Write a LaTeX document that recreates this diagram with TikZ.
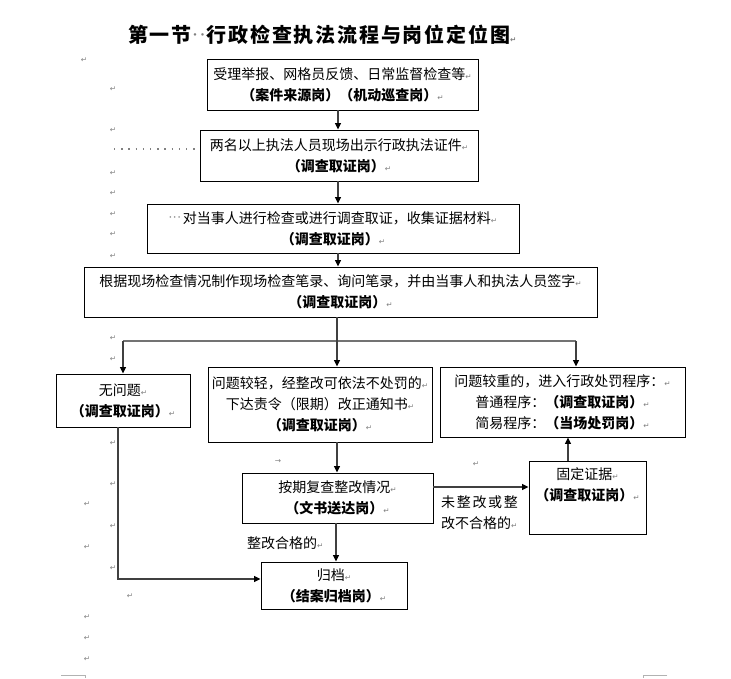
\documentclass[tikz,border=0pt]{standalone}
\usepackage{fontspec}
\setmainfont{Noto Sans CJK SC}
\newfontfamily\cjksp[LetterSpace=12]{Noto Sans CJK SC}
\newfontfamily\titlef[LetterSpace=9]{Noto Sans CJK SC}
\newfontfamily\markfont{DejaVu Sans}
\usetikzlibrary{arrows.meta}
\newcommand{\pmk}{{\markfont\fontsize{7.5}{7.5}\selectfont\textcolor{gray}{↵}}}
\newcommand{\gang}[1]{{\bfseries #1}}
\newcommand{\bodyfont}{\fontsize{14}{21}\selectfont}
\newcommand{\grdots}{\raisebox{3.3pt}{\markfont\fontsize{5.5}{5.5}\selectfont\textcolor{gray}{•\kern1.2pt•\kern1.2pt•}}\kern2pt}
\begin{document}
\begin{tikzpicture}[x=1pt,y=-1pt,
  box/.style={draw=black, line width=0.9pt, align=center, inner sep=0pt, font=\bodyfont},
  conn/.style={draw=black!75, line width=1.3pt, -{Triangle[length=6.5pt,width=6pt,color=black]}},
  plain/.style={draw=black!55, line width=1.3pt},
  lab/.style={inner sep=0pt, font=\bodyfont},
  mk/.style={inner sep=0pt, text=gray, font=\markfont\fontsize{7.5}{7.5}\selectfont}]
\fill[white] (0,0) rectangle (731,678);
\useasboundingbox (0,0) rectangle (731,678);

% title
\node[anchor=west, inner sep=0pt] (title) at (128,35)
  {\titlef\fontsize{20}{20}\selectfont\bfseries 第一节\kern1pt\raisebox{5pt}{\markfont\fontsize{7}{7}\selectfont\textcolor{gray}{•\kern3pt•}}\kern2pt 行政检查执法流程与岗位定位图\pmk};

% boxes
\node[box, minimum width=271pt, minimum height=51pt] (b1) at (342.5,84.5)
  {受理举报、网格员反馈、日常监督检查等\pmk\\\gang{（案件来源岗）（机动巡查岗）}\pmk};
\node[box, minimum width=278pt, minimum height=51pt] (b2) at (339,155.5)
  {两名以上执法人员现场出示行政执法证件\pmk\\\gang{（调查取证岗）}\pmk};
\node[box, minimum width=372pt, minimum height=49pt] (b3) at (333,228.5)
  {\grdots 对当事人进行检查或进行调查取证，收集证据材料\pmk\\\gang{（调查取证岗）}\pmk};
\node[box, minimum width=513pt, minimum height=50pt] (b4) at (340.5,292)
  {根据现场检查情况制作现场检查笔录、询问笔录，并由当事人和执法人员签字\pmk\\\gang{（调查取证岗）}\pmk};
\node[box, minimum width=134pt, minimum height=53pt] (b5) at (123,400.5)
  {无问题\pmk\\\gang{（调查取证岗）}\pmk};
\node[box, minimum width=224pt, minimum height=75pt] (b6) at (320,404.5)
  {问题较轻，经整改可依法不处罚的\pmk\\下达责令（限期）改正通知书\pmk\\\gang{（调查取证岗）}\pmk};
\node[box, minimum width=245pt, minimum height=70pt] (b7) at (562.5,402)
  {问题较重的，进入行政处罚程序：\pmk\\普通程序：\gang{（调查取证岗）}\pmk\\简易程序：\gang{（当场处罚岗）}\pmk};
\node[box, minimum width=191pt, minimum height=50pt] (b8) at (337.5,498)
  {按期复查整改情况\pmk\\\gang{（文书送达岗）}\pmk};
\node[box, minimum width=117pt, minimum height=73pt] (b9) at (587.5,497.5)
  {固定证据\pmk\\\gang{（调查取证岗）}\pmk\\\strut};
\node[box, minimum width=146pt, minimum height=47pt] (b10) at (334,585.5)
  {归档\pmk\\\gang{（结案归档岗）}\pmk};

% labels
\node[lab, anchor=west, align=left] (l1) at (441,513) {\cjksp 未整改或整\\改不合格的\pmk};
\node[lab, anchor=west] (l2) at (247,543) {整改合格的\pmk};

% connectors
\coordinate (spine) at (338,0);
\draw[conn] (b1.south -| spine) -- (b2.north -| spine);
\draw[conn] (b2.south -| spine) -- (b3.north -| spine);
\draw[conn] (b3.south -| spine) -- (b4.north -| spine);
\coordinate (jL) at (123,341);
\coordinate (jR) at (576,341);
\coordinate (jM) at (337,341);
\draw[plain] (jL) -- (jR);
\draw[conn] (b4.south -| jM) -- (b6.north -| jM);
\draw[conn] (jL) -- (jL |- b5.north);
\draw[conn] (jR) -- (jR |- b7.north);
\draw[conn] (b6.south -| jM) -- (b8.north -| jM);
\coordinate (hy) at (0,487);
\draw[conn] (b8.east |- hy) -- (b9.west |- hy);
\coordinate (vx) at (568,0);
\draw[conn] (b9.north -| vx) -- (b7.south -| vx);
\coordinate (sx) at (336,0);
\draw[conn] (b8.south -| sx) -- (b10.north -| sx);
\coordinate (lc) at (118,579);
\draw[conn] (b5.south -| lc) -- (lc) -- (b10.west |- lc);

% word-processor marks
\foreach \p [count=\i] in {(84,60),(113,89),(113,130),(113,173),(113,193),(113,214),(113,234),(113,256),(113,338),(113,359),(113,443),(113,484),(113,526),(113,568),(87,504),(87,547),(130,596),(87,617),(87,638),(87,659),(476,464)}
  \node[mk] (m\i) at \p {↵};
\node[mk] (tab) at (278,462) {→};
\coordinate (dotA) at (114,149);
\draw[gray, line width=1.3pt, dash pattern=on 1.3pt off 5.9pt] (dotA) -- ([xshift=-3pt]b2.west |- dotA);
\coordinate (cA) at (61,675);
\coordinate (cB) at (85,675);
\coordinate (cC) at (643,675);
\coordinate (cD) at (667,675);
\draw[gray!60, line width=0.6pt] (cA) -- (cB) -- ++(0,3);
\draw[gray!60, line width=0.6pt] (cD) -- (cC) -- ++(0,3);
\end{tikzpicture}
\end{document}
